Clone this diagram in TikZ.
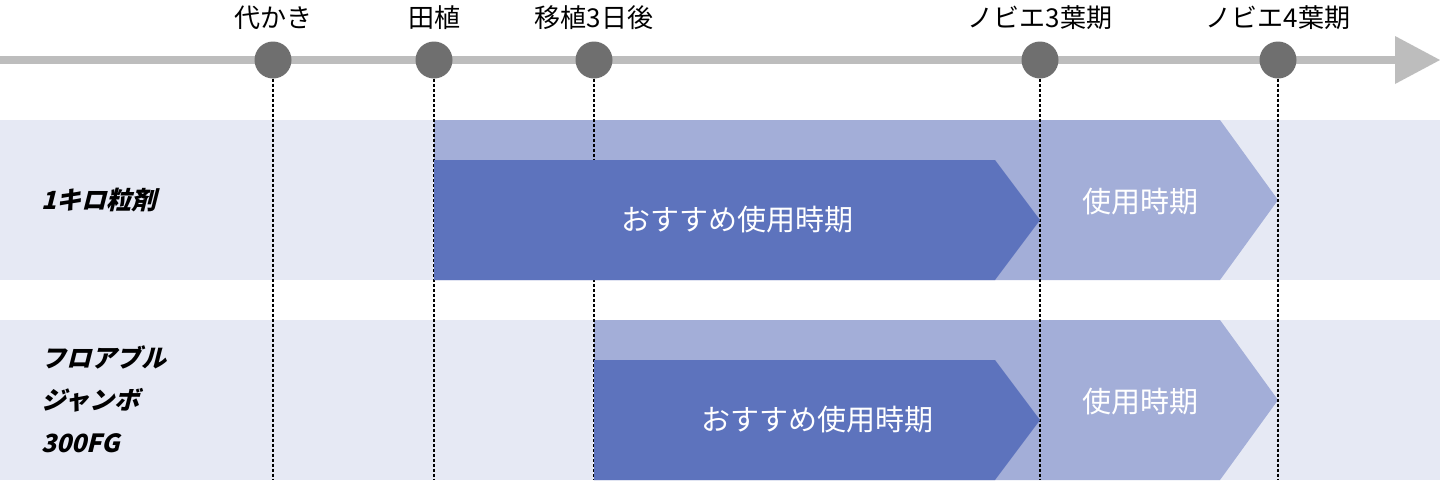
\documentclass[tikz,border=0pt]{standalone}
\usepackage{fontspec}
\setmainfont{Noto Sans CJK JP}
\newfontfamily\jpb{Noto Sans CJK JP Black}
\begin{document}
\begin{tikzpicture}[x=1pt,y=-1pt,
  dot/.style={circle,fill=dotgray,minimum size=37,inner sep=0},
  toplbl/.style={font=\fontsize{26}{30}\selectfont,text=black},
  wlbl/.style={font=\fontsize{29}{34}\selectfont,text=white},
  logo/.style={font=\fontsize{25}{30}\jpb,text=black,anchor=west,xslant=0.25},
  vline/.style={densely dashed,line width=1.2,black}]
\definecolor{dotgray}{HTML}{6F6F6F}
\definecolor{axisgray}{HTML}{BDBDBD}
\definecolor{band}{HTML}{E6E9F4}
\definecolor{lightb}{HTML}{A3AED8}
\definecolor{darkb}{HTML}{5D73BD}
\useasboundingbox (0,0) rectangle (1440,480);
\fill[white] (0,0) rectangle (1440,480);
% axis
\fill[axisgray] (0,56) rectangle (1400,64);
\fill[axisgray] (1395,36) -- (1440,60) -- (1395,84) -- cycle;
% bands
\fill[band] (0,120) rectangle (1440,280);
\fill[band] (0,320) rectangle (1440,480);
\fill[lightb] (434,120) -- (1220,120) -- (1278,200) -- (1220,280) -- (434,280) -- cycle;
\fill[lightb] (594,320) -- (1220,320) -- (1278,400) -- (1220,480) -- (594,480) -- cycle;
% dots and labels
\foreach \n/\x/\t in {a/273/代かき,b/434/田植,c/594/移植3日後,d/1040/ノビエ3葉期,e/1278/ノビエ4葉期}{
  \node[dot] (\n) at (\x,60) {};
  \node[toplbl] (t\n) at (\x,18) {\t};
  \coordinate (\n end) at (\x,480);
  \draw[vline] (\n.south) -- (\n end);
}
\fill[darkb] (434,160) -- (995,160) -- (1040,220) -- (995,280) -- (434,280) -- cycle;
\fill[darkb] (594,360) -- (995,360) -- (1040,420) -- (995,480) -- (594,480) -- cycle;
\node[wlbl] (r1) at (737,220) {おすすめ使用時期};
\node[wlbl] (u1) at (1140,202) {使用時期};
\node[wlbl] (r2) at (817,420) {おすすめ使用時期};
\node[wlbl] (u2) at (1140,402) {使用時期};
\node[logo] (l1) at (40,200) {1キロ粒剤};
\node[logo] (l2) at (40,357) {フロアブル};
\node[logo] (l3) at (40,400) {ジャンボ};
\node[logo] (l4) at (40,443) {300FG};
\end{tikzpicture}
\end{document}
